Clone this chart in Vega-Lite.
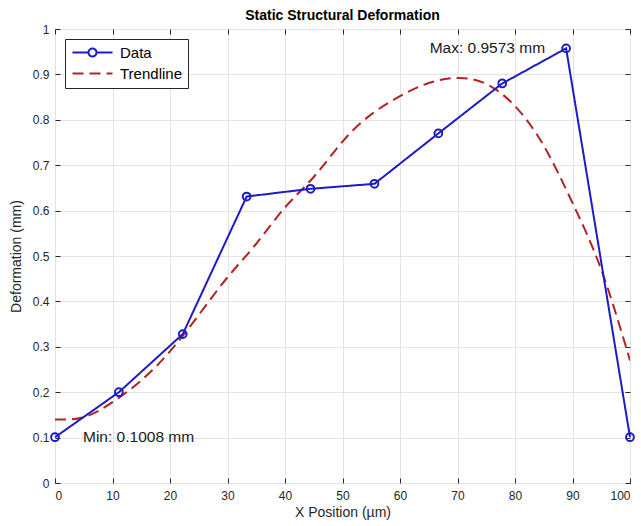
{
  "$schema": "https://vega.github.io/schema/vega-lite/v6.json",
  "width": 575,
  "height": 454,
  "autosize": {"type": "none"},
  "padding": {"left": 55, "top": 29, "right": 11, "bottom": 43},
  "background": "white",
  "title": {"text": "Static Structural Deformation", "fontSize": 14, "fontWeight": "bold", "font": "Liberation Sans", "color": "#000000", "offset": 0},
  "config": {
    "font": "Liberation Sans",
    "view": {"stroke": "#262626", "strokeWidth": 1},
    "axis": {"labelFont": "Liberation Sans", "titleFont": "Liberation Sans", "labelFontSize": 12, "titleFontSize": 14, "titleFontWeight": "normal", "labelColor": "#262626", "titleColor": "#262626", "gridColor": "#e3e3e3", "gridOpacity": 1, "domain": false, "tickColor": "#262626", "tickSize": -5}
  },
  "datasets": {
    "series": [
      {"x": 0, "y": 0.1008, "series": "Data"},
      {"x": 11.11, "y": 0.2, "series": "Data"},
      {"x": 22.22, "y": 0.328, "series": "Data"},
      {"x": 33.33, "y": 0.631, "series": "Data"},
      {"x": 44.44, "y": 0.648, "series": "Data"},
      {"x": 55.56, "y": 0.659, "series": "Data"},
      {"x": 66.67, "y": 0.77, "series": "Data"},
      {"x": 77.78, "y": 0.88, "series": "Data"},
      {"x": 88.89, "y": 0.9573, "series": "Data"},
      {"x": 100, "y": 0.1008, "series": "Data"},
      {"x": 0, "y": 0.14, "series": "Trendline"},
      {"x": 5, "y": 0.145, "series": "Trendline"},
      {"x": 10, "y": 0.178, "series": "Trendline"},
      {"x": 15, "y": 0.226, "series": "Trendline"},
      {"x": 20, "y": 0.29, "series": "Trendline"},
      {"x": 25, "y": 0.37, "series": "Trendline"},
      {"x": 30, "y": 0.453, "series": "Trendline"},
      {"x": 35, "y": 0.527, "series": "Trendline"},
      {"x": 40, "y": 0.607, "series": "Trendline"},
      {"x": 45, "y": 0.674, "series": "Trendline"},
      {"x": 50, "y": 0.752, "series": "Trendline"},
      {"x": 55, "y": 0.812, "series": "Trendline"},
      {"x": 60, "y": 0.852, "series": "Trendline"},
      {"x": 65, "y": 0.881, "series": "Trendline"},
      {"x": 70, "y": 0.892, "series": "Trendline"},
      {"x": 75, "y": 0.879, "series": "Trendline"},
      {"x": 80, "y": 0.83, "series": "Trendline"},
      {"x": 85, "y": 0.743, "series": "Trendline"},
      {"x": 90, "y": 0.617, "series": "Trendline"},
      {"x": 95, "y": 0.47, "series": "Trendline"},
      {"x": 100, "y": 0.27, "series": "Trendline"}
    ],
    "notes": [
      {"x": 88.89, "y": 0.9573, "label": "Max: 0.9573 mm", "side": "max"},
      {"x": 0, "y": 0.1008, "label": "Min: 0.1008 mm", "side": "min"}
    ]
  },
  "resolve": {"axis": {"x": "independent", "y": "independent"}},
  "layer": [
    {
      "data": {"name": "series"},
      "transform": [{"filter": "datum.series === 'Trendline'"}],
      "mark": {"type": "line", "interpolate": "natural", "strokeWidth": 2, "clip": true},
      "encoding": {
        "x": {"field": "x", "type": "quantitative", "scale": {"domain": [0, 100], "nice": false}, "axis": {"title": "X Position (µm)", "values": [0,10,20,30,40,50,60,70,80,90,100], "grid": true, "labelPadding": 12, "titlePadding": 4}},
        "y": {"field": "y", "type": "quantitative", "scale": {"domain": [0, 1], "nice": false}, "axis": {"title": "Deformation (mm)", "values": [0,0.1,0.2,0.3,0.4,0.5,0.6,0.7,0.8,0.9,1], "format": "~g", "grid": true, "labelPadding": 11, "titlePadding": 9}},
        "color": {"field": "series", "type": "nominal", "scale": {"domain": ["Data", "Trendline"], "range": ["#1c1cc4", "#b22222"]},
          "legend": {"title": null, "orient": "top-left", "offset": 10, "padding": 6, "strokeColor": "#262626", "fillColor": "white", "labelFontSize": 15, "labelColor": "#000000", "labelFont": "Liberation Sans", "symbolSize": 100, "symbolOffset": 14, "symbolStrokeWidth": 2, "rowPadding": 5, "labelOffset": 20,
            "encode": {"symbols": {"update": {"shape": {"signal": "datum.value === 'Data' ? 'M-4,0L-0.8,0M0.8,0L4,0M0.8,0A0.8,0.8 0 1,1 -0.8,0A0.8,0.8 0 1,1 0.8,0' : 'M-4,0L4,0'"}, "fill": {"value": "transparent"}, "strokeWidth": {"value": 2}}}}}},
        "strokeDash": {"field": "series", "type": "nominal", "scale": {"domain": ["Data", "Trendline"], "range": [[1, 0], [11, 6]]}, "legend": null}
      }
    },
    {
      "data": {"name": "series"},
      "transform": [{"filter": "datum.series === 'Data'"}],
      "mark": {"type": "line", "strokeWidth": 2},
      "encoding": {
        "x": {"field": "x", "type": "quantitative", "axis": {"orient": "top", "labels": false, "title": null, "grid": false, "values": [0,10,20,30,40,50,60,70,80,90,100]}},
        "y": {"field": "y", "type": "quantitative", "axis": {"orient": "right", "labels": false, "title": null, "grid": false, "values": [0,0.1,0.2,0.3,0.4,0.5,0.6,0.7,0.8,0.9,1]}},
        "color": {"field": "series", "type": "nominal"},
        "strokeDash": {"field": "series", "type": "nominal"}
      }
    },
    {
      "data": {"name": "series"},
      "transform": [{"filter": "datum.series === 'Data'"}],
      "mark": {"type": "point", "shape": "circle", "filled": false, "size": 60, "strokeWidth": 2, "opacity": 1},
      "encoding": {
        "x": {"field": "x", "type": "quantitative", "axis": null},
        "y": {"field": "y", "type": "quantitative", "axis": null},
        "color": {"field": "series", "type": "nominal"}
      }
    },
    {
      "data": {"name": "notes"},
      "transform": [{"filter": "datum.side === 'max'"}],
      "mark": {"type": "text", "align": "right", "baseline": "middle", "dx": -21, "fontSize": 15.5, "color": "#1a1a1a", "font": "Liberation Sans"},
      "encoding": {
        "x": {"field": "x", "type": "quantitative", "axis": null},
        "y": {"field": "y", "type": "quantitative", "axis": null},
        "text": {"field": "label"}
      }
    },
    {
      "data": {"name": "notes"},
      "transform": [{"filter": "datum.side === 'min'"}],
      "mark": {"type": "text", "align": "left", "baseline": "middle", "dx": 28, "fontSize": 15.5, "color": "#1a1a1a", "font": "Liberation Sans"},
      "encoding": {
        "x": {"field": "x", "type": "quantitative", "axis": null},
        "y": {"field": "y", "type": "quantitative", "axis": null},
        "text": {"field": "label"}
      }
    }
  ]
}
